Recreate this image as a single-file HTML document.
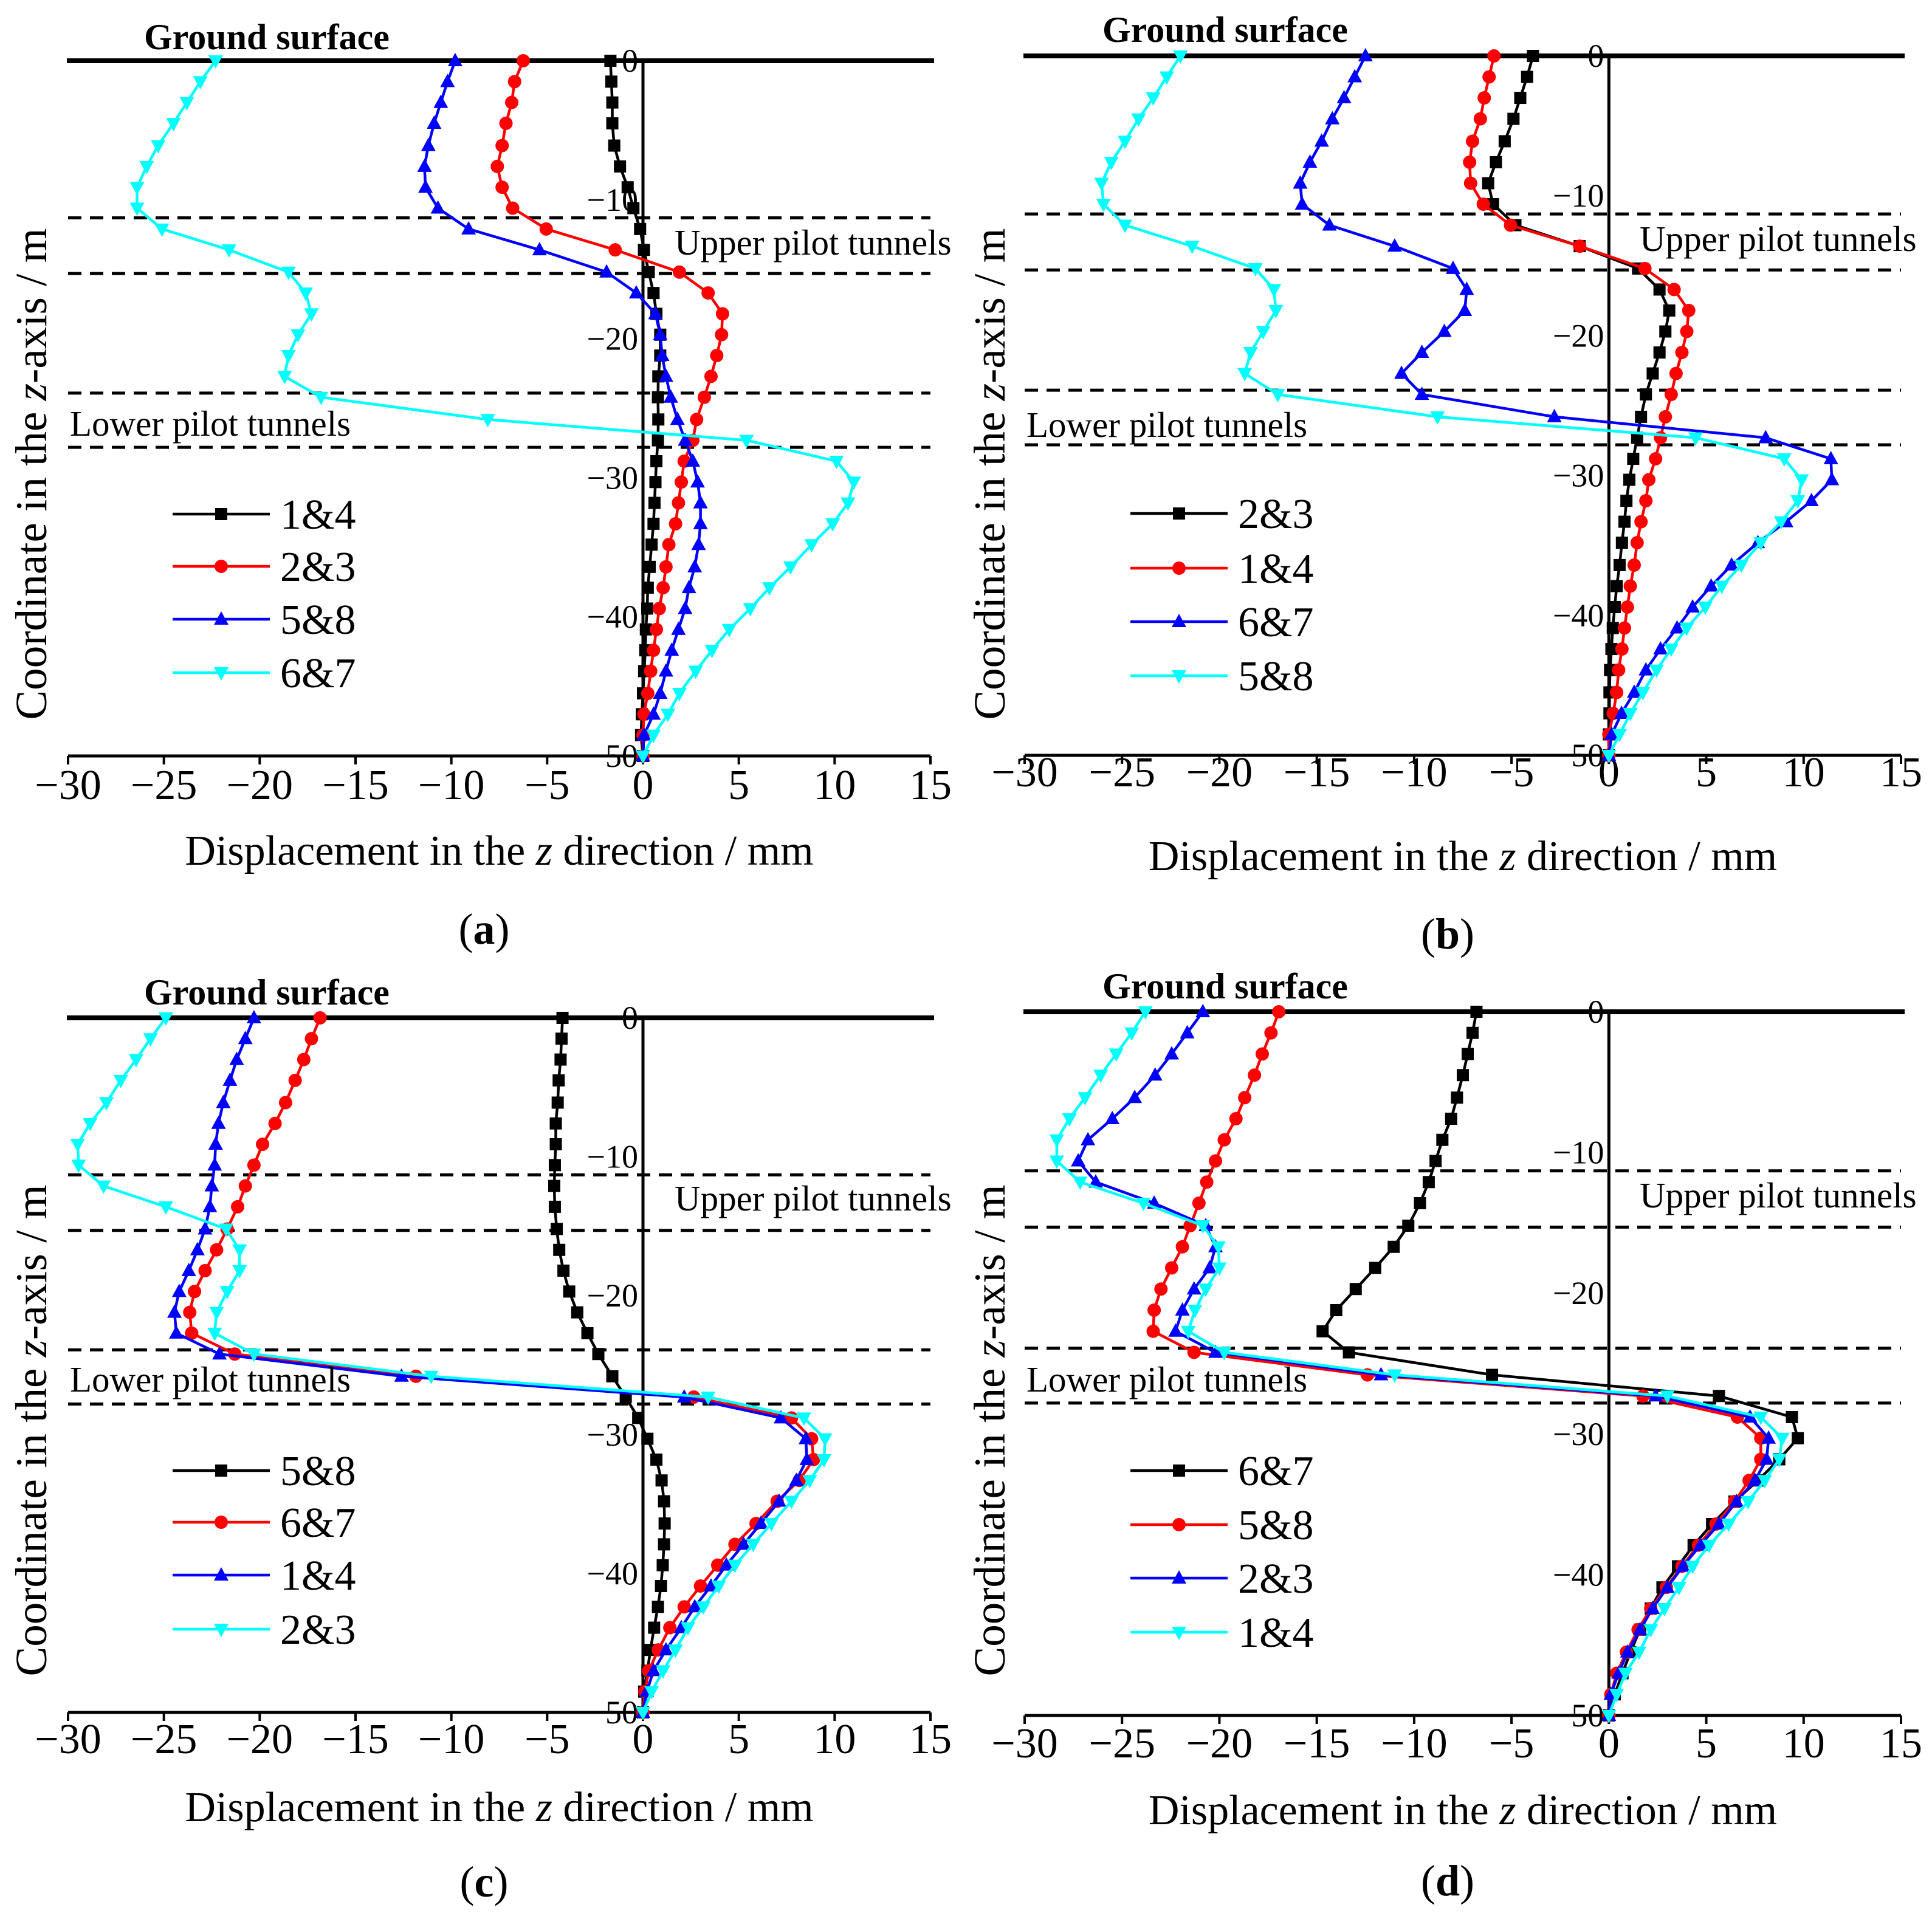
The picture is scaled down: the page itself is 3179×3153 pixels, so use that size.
<!DOCTYPE html>
<html><head><meta charset="utf-8">
<style>
html,body{margin:0;padding:0;background:#fff;}
svg{display:block;font-family:"Liberation Serif","DejaVu Serif",serif;}
</style></head>
<body>
<svg id="fig" xmlns="http://www.w3.org/2000/svg" width="3179" height="3153" viewBox="0 0 3179 3153"></svg>
<script>
// shared depth grid (m)
const zGrid = [0,-1.5,-3,-4.5,-6.1,-7.6,-9.1,-10.6,-12.1,-13.6,-15.2,-16.7,-18.2,-19.7,-21.2,-22.7,-24.2,-25.8,-27.3,-28.8,-30.3,-31.8,-33.3,-34.8,-36.4,-37.9,-39.4,-40.9,-42.4,-43.9,-45.5,-47,-48.5,-50];
const xTicks = [-30,-25,-20,-15,-10,-5,0,5,10,15];
const yTicks = [0,-10,-20,-30,-40,-50];
const dashedZ = [-11.3,-15.3,-23.9,-27.8];

// panel (a)
const aNames = ["1&4","2&3","5&8","6&7"];
const aBlack = [-1.7,-1.65,-1.6,-1.6,-1.5,-1.2,-0.8,-0.5,-0.15,0.05,0.3,0.55,0.7,0.9,0.9,0.8,0.78,0.8,0.78,0.7,0.65,0.6,0.55,0.45,0.35,0.25,0.22,0.15,0.12,0.06,0,-0.06,-0.1,0];
const aRed = [-6.25,-6.7,-6.85,-7.15,-7.35,-7.6,-7.35,-6.8,-5.05,-1.45,1.9,3.4,4.15,4.1,3.85,3.55,3.2,2.8,2.6,2.15,2.0,1.85,1.7,1.35,1.2,1.05,0.85,0.7,0.55,0.4,0.25,0.05,0,0];
const aBlue = [-9.8,-10.2,-10.55,-10.9,-11.2,-11.4,-11.35,-10.7,-9.1,-5.4,-1.9,-0.35,0.65,0.9,1.0,1.2,1.45,1.8,2.2,2.6,2.85,3.0,3.0,2.9,2.7,2.4,2.2,1.85,1.5,1.2,0.9,0.55,0.05,0];
const aCyan = [-22.3,-23.1,-23.8,-24.5,-25.3,-25.9,-26.4,-26.4,-25.1,-21.6,-18.5,-17.6,-17.3,-18,-18.5,-18.7,-16.8,-8.1,5.4,10.1,11,10.7,9.9,8.8,7.7,6.6,5.6,4.5,3.6,2.75,1.9,1.3,0.55,0];
// panel (b)
const bNames = ["2&3","1&4","6&7","5&8"];
const bBlack = [-3.9,-4.2,-4.55,-4.9,-5.35,-5.8,-6.2,-5.95,-4.8,-1.5,1.5,2.6,3.1,2.9,2.6,2.25,1.9,1.65,1.45,1.25,1.05,0.9,0.8,0.67,0.55,0.4,0.3,0.2,0.13,0.06,0.03,0.03,0,0];
const bRed = [-5.9,-6.15,-6.4,-6.6,-7.0,-7.15,-7.1,-6.45,-5.05,-1.5,1.85,3.35,4.1,4.0,3.75,3.45,3.2,2.9,2.65,2.4,2.05,1.9,1.65,1.45,1.3,1.1,0.95,0.8,0.67,0.5,0.4,0.22,0,0];
const bBlue = [-12.5,-13.05,-13.6,-14.2,-14.75,-15.35,-15.85,-15.75,-14.35,-11,-8.0,-7.3,-7.4,-8.45,-9.6,-10.65,-9.6,-2.8,8.05,11.4,11.45,10.4,9.1,7.65,6.3,5.25,4.3,3.5,2.65,1.9,1.3,0.65,0.15,0];
const bCyan = [-22,-22.7,-23.4,-24.15,-24.85,-25.55,-26.05,-25.95,-24.85,-21.4,-18.15,-17.2,-17.1,-17.75,-18.4,-18.7,-17,-8.8,4.45,9.0,9.9,9.7,8.85,7.8,6.8,5.8,4.95,4.0,3.2,2.45,1.75,1.1,0.55,0];
// panel (c)
const cNames = ["5&8","6&7","1&4","2&3"];
const cBlack = [-4.2,-4.25,-4.3,-4.4,-4.45,-4.55,-4.55,-4.6,-4.63,-4.6,-4.5,-4.37,-4.15,-3.85,-3.43,-2.9,-2.33,-1.6,-0.9,-0.25,0.23,0.7,0.97,1.1,1.13,1.1,1.03,0.94,0.78,0.58,0.39,0.23,0.06,0];
const cRed = [-16.85,-17.3,-17.7,-18.15,-18.65,-19.2,-19.85,-20.3,-20.75,-21.15,-21.7,-22.25,-22.85,-23.4,-23.65,-23.55,-21.3,-11.85,2.65,7.75,8.8,8.9,8.15,7.0,5.9,4.8,3.9,3.0,2.15,1.4,0.8,0.3,0.1,0];
const cBlue = [-20.3,-20.75,-21.2,-21.55,-21.9,-22.15,-22.3,-22.35,-22.5,-22.6,-22.85,-23.25,-23.7,-24.2,-24.45,-24.35,-22.1,-12.6,2.15,7.2,8.5,8.55,8.0,7.1,6.15,5.25,4.35,3.55,2.7,2.0,1.2,0.55,0.2,0];
const cCyan = [-24.9,-25.7,-26.45,-27.25,-28.0,-28.85,-29.5,-29.45,-28.15,-24.9,-21.75,-21.05,-21.05,-21.7,-22.25,-22.35,-20.3,-11.05,3.4,8.4,9.5,9.45,8.7,7.75,6.7,5.75,4.8,3.95,3.15,2.35,1.7,1.05,0.45,0];
// panel (d)
const dNames = ["6&7","5&8","2&3","1&4"];
const dBlack = [-6.8,-7.0,-7.25,-7.5,-7.8,-8.1,-8.55,-8.9,-9.25,-9.7,-10.3,-11.05,-12.0,-13.0,-14.0,-14.7,-13.35,-6.0,5.65,9.4,9.7,8.75,7.65,6.45,5.3,4.35,3.55,2.75,2.15,1.6,1.1,0.7,0.3,0];
const dRed = [-16.95,-17.35,-17.8,-18.2,-18.7,-19.15,-19.75,-20.2,-20.65,-21.05,-21.5,-21.9,-22.45,-23.0,-23.35,-23.4,-21.3,-12.4,1.75,6.6,7.8,7.8,7.2,6.45,5.5,4.6,3.75,2.95,2.15,1.5,0.9,0.4,0.1,0];
const dBlue = [-20.85,-21.65,-22.45,-23.3,-24.35,-25.5,-26.75,-27.25,-26.35,-23.35,-20.7,-20.2,-20.5,-21.3,-21.9,-22.25,-20.2,-11.7,2.4,7.25,8.2,8.1,7.5,6.55,5.65,4.7,3.8,3.0,2.25,1.6,0.95,0.5,0.1,0];
const dCyan = [-23.8,-24.5,-25.3,-26.1,-26.9,-27.7,-28.35,-28.35,-27.15,-23.9,-20.85,-20.05,-20.0,-20.7,-21.25,-21.6,-19.75,-11.0,3.0,7.8,8.9,8.75,8.0,7.15,6.15,5.15,4.3,3.6,2.85,2.15,1.55,0.85,0.4,0];

const NS = "http://www.w3.org/2000/svg";
const svg = document.getElementById("fig");
function mk(tag, attrs, parent){
  const e = document.createElementNS(NS, tag);
  for (const k in attrs) e.setAttribute(k, attrs[k]);
  (parent||svg).appendChild(e);
  return e;
}
const colors = ["#000000","#ff0000","#0000ff","#00ffff"];
const markerKinds = ["square","circle","up","down"];

function marker(g, kind, cx, cy, color){
  let m;
  if (kind==="square") m = mk("rect",{x:cx-10,y:cy-10,width:20,height:20,fill:color},g);
  else if (kind==="circle") m = mk("circle",{cx:cx,cy:cy,r:11,fill:color},g);
  else if (kind==="up") m = mk("polygon",{points:`${cx},${cy-13} ${cx-12},${cy+9} ${cx+12},${cy+9}`,fill:color},g);
  else m = mk("polygon",{points:`${cx},${cy+13} ${cx-12},${cy-9} ${cx+12},${cy-9}`,fill:color},g);
  
  
  return m;
}

const panels = [
  {id:"a", xL:112, xR:1531, yT:100, yB:1244, names:aNames, series:[aBlack,aRed,aBlue,aCyan],
   gs:[237,81], up:[1110,419], lo:[115,717], leg:[846,932,1019,1107], legX:284, tickY:1315, titleY:1423, capY:1553, ytX:76, ytY:780},
  {id:"b", xL:1686, xR:3128, yT:92, yB:1243, names:bNames, series:[bBlack,bRed,bBlue,bCyan],
   gs:[1814,69], up:[2698,413], lo:[1689,719], leg:[845,935,1023,1112], legX:1860, tickY:1294, titleY:1432, capY:1561, ytX:1653, ytY:780},
  {id:"c", xL:112, xR:1531, yT:1675, yB:2818, names:cNames, series:[cBlack,cRed,cBlue,cCyan],
   gs:[237,1653], up:[1110,1992], lo:[115,2290], leg:[2420,2505,2592,2681], legX:284, tickY:2885, titleY:2997, capY:3121, ytX:76, ytY:2354},
  {id:"d", xL:1686, xR:3128, yT:1665, yB:2823, names:dNames, series:[dBlack,dRed,dBlue,dCyan],
   gs:[1814,1643], up:[2698,1987], lo:[1689,2290], leg:[2420,2509,2597,2686], legX:1860, tickY:2892, titleY:3002, capY:3119, ytX:1653, ytY:2354}
];

panels.forEach(p=>{
  const g = mk("g",{});
  
  
  const X = v => p.xL + (v+30)/45*(p.xR-p.xL);
  const Y = z => p.yT + (-z)/50*(p.yB-p.yT);
  const cx = (p.xL+p.xR)/2;

  dashedZ.forEach(z=>{
    const l = mk("line",{x1:p.xL,x2:p.xR,y1:Y(z),y2:Y(z),stroke:"#000","stroke-width":5,"stroke-dasharray":"22,14"},g);
    
    
  });
  const gl = mk("line",{x1:p.xL-2,x2:p.xR+6,y1:Y(0),y2:Y(0),stroke:"#000","stroke-width":8},g);
  
  
  const ya = mk("line",{x1:X(0),x2:X(0),y1:Y(0),y2:Y(-50),stroke:"#000","stroke-width":5},g);
  
  
  yTicks.forEach(t=>{
    const tl = mk("text",{x:X(0)-8,y:Y(t)+18,"text-anchor":"end","font-size":54},g);
    tl.textContent = t===0 ? "0" : "\u2212"+Math.abs(t);
    
    
  });
  const xa = mk("line",{x1:p.xL,x2:p.xR,y1:p.yB,y2:p.yB,stroke:"#000","stroke-width":5},g);
  
  
  xTicks.forEach(t=>{
    const tk = mk("line",{x1:X(t),x2:X(t),y1:p.yB,y2:p.yB+14,stroke:"#000","stroke-width":4},g);
    
    
    const tl = mk("text",{x:X(t),y:p.tickY,"text-anchor":"middle","font-size":70},g);
    tl.textContent = t<0 ? "\u2212"+Math.abs(t) : String(t);
    
    
  });

  p.series.forEach((arr,i)=>{
    const sg = mk("g",{},g);
    
    
    const n = Math.min(arr.length, zGrid.length);
    let d = "";
    for (let k=0;k<n;k++) d += (k?"L":"M")+X(arr[k]).toFixed(1)+","+Y(zGrid[k]).toFixed(1);
    mk("path",{d:d,fill:"none",stroke:colors[i],"stroke-width":4.5,"stroke-linejoin":"round"},sg);
    for (let k=0;k<n;k++) marker(sg, markerKinds[i], X(arr[k]), Y(zGrid[k]), colors[i]);
  });

  p.names.forEach((nm,i)=>{
    const lg = mk("g",{},g);
    
    
    const y = p.leg[i];
    mk("line",{x1:p.legX,x2:p.legX+160,y1:y,y2:y,stroke:colors[i],"stroke-width":4.5},lg);
    marker(lg, markerKinds[i], p.legX+80, y, colors[i]);
    const t = mk("text",{x:p.legX+177,y:y+24,"font-size":70},lg);
    t.textContent = nm;
  });

  const gs = mk("text",{x:p.gs[0],y:p.gs[1],"font-size":60,"font-weight":"bold"},g);
  gs.textContent = "Ground surface";
  
  
  const up = mk("text",{x:p.up[0],y:p.up[1],"font-size":59},g);
  up.textContent = "Upper pilot tunnels";
  
  
  const lo = mk("text",{x:p.lo[0],y:p.lo[1],"font-size":59},g);
  lo.textContent = "Lower pilot tunnels";
  
  

  const xt = mk("text",{x:cx,y:p.titleY,"text-anchor":"middle","font-size":70},g);
  xt.innerHTML = 'Displacement in the <tspan font-style="italic">z</tspan> direction / mm';
  
  
  const yt = mk("text",{x:0,y:0,"text-anchor":"middle","font-size":73,transform:`translate(${p.ytX},${p.ytY}) rotate(-90)`},g);
  yt.innerHTML = 'Coordinate in the <tspan font-style="italic">z</tspan>-axis / m';
  
  
  const cap = mk("text",{x:cx-25,y:p.capY,"text-anchor":"middle","font-size":72},g);
  cap.innerHTML = '(<tspan font-weight="bold">'+p.id+'</tspan>)';
  
  
});
</script>
</body></html>
